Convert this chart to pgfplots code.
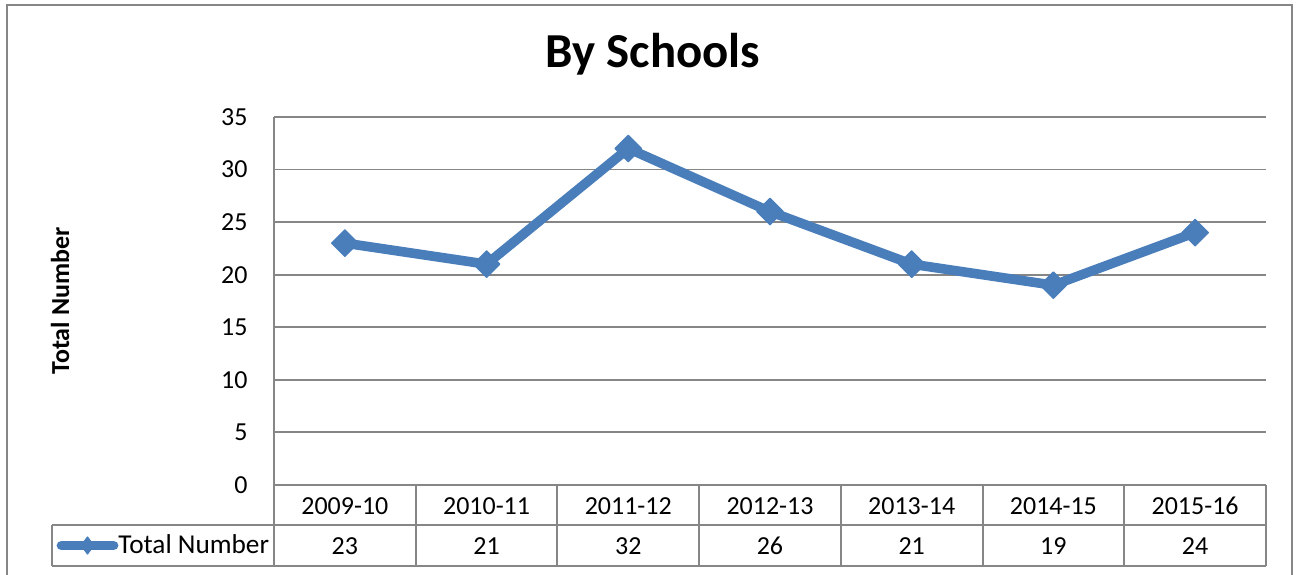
\documentclass[border=0pt]{standalone}
\usepackage{pgfplots}
\pgfplotsset{compat=1.18}
\usepackage{pgfplotstable}
\usepackage{fontspec}
\setmainfont{Carlito}
\definecolor{serblue}{RGB}{74,126,187}
\definecolor{gridgray}{RGB}{134,134,134}
\pgfplotstableread{
x label value
0 2009-10 23
1 2010-11 21
2 2011-12 32
3 2012-13 26
4 2013-14 21
5 2014-15 19
6 2015-16 24
}\data
\begin{document}
\begin{tikzpicture}
\begin{scope}[x=0.385pt,y=-0.385pt]
\draw[gridgray, line width=0.8pt] (7,5) rectangle (1292,640);
\end{scope}
\begin{axis}[
  at={(274*0.385pt,-485*0.385pt)}, anchor=south west,
  scale only axis, width=381.9pt, height=141.7pt,
  xmin=-0.5, xmax=6.5, ymin=0, ymax=35,
  xtick={0,...,6}, xticklabels from table={\data}{label},
  ytick={0,5,...,35},
  axis x line*=bottom, axis y line*=left,
  axis line style={gridgray, line width=0.75pt, -},
  major tick length=0pt,
  ymajorgrids, grid style={gridgray, line width=0.75pt},
  clip=false,
  font=\fontsize{10}{12}\selectfont,
  /pgf/number format/assume math mode=true,
  yticklabel style={inner sep=0pt, xshift=-10pt},
  xticklabel style={anchor=center, inner sep=0pt, yshift=-8.1pt},
  title={By Schools},
  title style={font=\bfseries\fontsize{18.8}{22}\selectfont, at={(axis description cs:0.382,1.0907)}, anchor=base, inner sep=0pt},
  ylabel={Total Number},
  ylabel style={font=\bfseries\fontsize{10}{12}\selectfont, at={(axis description cs:-0.2157,0.5)}, anchor=center, inner sep=0pt},
  legend style={draw=none, fill=none, at={(axis description cs:-0.2197,-0.1644)}, anchor=west, inner sep=0pt, font=\fontsize{10.5}{12}\selectfont, nodes={inner sep=0pt}, /tikz/every odd column/.append style={column sep=0pt}},
  legend image code/.code={
    \draw[mark repeat=2, mark phase=2, #1, line width=3.8pt, line cap=round, mark=diamond*, mark size=3.3pt, mark options={rotate=0, fill=serblue, draw=serblue, line width=0.4pt}] plot coordinates {(0pt,0pt) (10pt,0pt) (20pt,0pt)};
  },
]
\addplot[serblue, line width=3.7pt, line join=round, mark=square*, mark size=3.6pt,
  mark options={rotate=45, fill=serblue, draw=serblue, line width=0.5pt}]
  table[x=x, y=value] {\data};
\addlegendentry{Total Number}
\addplot[forget plot, draw=none, mark=none, nodes near coords, point meta=explicit symbolic,
  nodes near coords style={anchor=center, inner sep=0pt, yshift=-23.5pt, black, font=\fontsize{10}{12}\selectfont}]
  table[x=x, y expr=0, meta=value] {\data};
\end{axis}
\begin{scope}[x=0.385pt,y=-0.385pt, gridgray, line width=0.75pt]
\foreach \k in {0,...,7} { \draw ({274+141.714*\k},485) -- ({274+141.714*\k},566); }
\draw (52,525) -- (1266,525);
\draw (52,566) -- (1266,566);
\draw (52,525) -- (52,566);
\end{scope}
\pgfresetboundingbox
\path[use as bounding box] (0,0) rectangle (1297*0.385pt,-575*0.385pt);
\end{tikzpicture}
\end{document}
